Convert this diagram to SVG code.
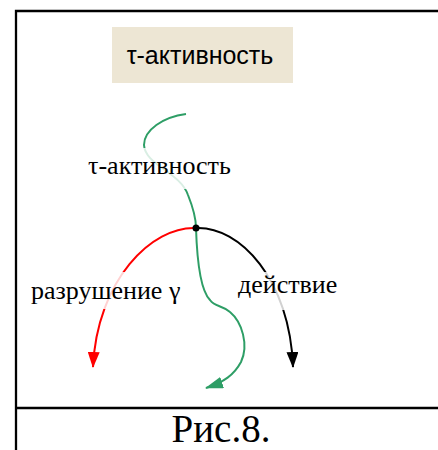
<svg xmlns="http://www.w3.org/2000/svg" width="438" height="450" viewBox="0 0 438 450">
  <style>
    .frame { stroke: #000; stroke-width: 2.3; fill: none; }
    .curve { fill: none; stroke-width: 2; }
    .serif { font-family: "Liberation Serif", "Times New Roman", serif; fill: #000; }
    .sans { font-family: "Liberation Sans", Arial, sans-serif; fill: #000; }
    .halo { fill: #fff; opacity: 0.82; }
  </style>
  <defs>
    <marker id="arrowRed" viewBox="0 0 16 12" refX="15" refY="6" markerWidth="16" markerHeight="12" markerUnits="userSpaceOnUse" orient="auto">
      <path d="M0,0 L16,6 L0,12 z" fill="#ff0000"/>
    </marker>
    <marker id="arrowBlack" viewBox="0 0 16 12" refX="15" refY="6" markerWidth="16" markerHeight="12" markerUnits="userSpaceOnUse" orient="auto">
      <path d="M0,0 L16,6 L0,12 z" fill="#000"/>
    </marker>
    <marker id="arrowGreen" viewBox="0 0 18 12" refX="17" refY="6" markerWidth="18" markerHeight="12" markerUnits="userSpaceOnUse" orient="auto">
      <path d="M0,0 L18,6 L0,12 z" fill="#2e9e66"/>
    </marker>
  </defs>

  <!-- frame -->
  <g id="frame">
    <path class="frame" d="M16,450 L16,11 L438,11"/>
    <path class="frame" d="M16,408 L438,408"/>
  </g>

  <!-- title box -->
  <g id="title">
    <rect x="112" y="27" width="181" height="56" fill="#ede6d4"/>
    <text class="sans" x="200" y="64" font-size="25" text-anchor="middle">τ-активность</text>
  </g>

  <!-- connectors -->
  <g id="connectors">
    <path class="curve" stroke="#2e9e66" marker-end="url(#arrowGreen)"
          d="M186,114 C163,117 144,130 144,145 C145,165 180,172 188,195 C194,210 196,220 196,228 C197,260 200,290 210,300 C215,307 222,305 230,312 C242,322 249,345 241,362 C234,375 224,382 206,388"/>
    <path class="curve" stroke="#ff0000" marker-end="url(#arrowRed)"
          d="M196,228 C152,226 97,280 93,367"/>
    <path class="curve" stroke="#000" marker-end="url(#arrowBlack)"
          d="M196,228 C240,226 290,280 293,367"/>
  </g>

  <!-- label backings soften the curves passing under the labels -->
  <g id="label-tau">
    <rect class="halo" x="86" y="148" width="152" height="41"/>
    <text class="serif" x="88" y="174" font-size="26">τ-активность</text>
  </g>
  <g id="label-destruction">
    <rect class="halo" x="28" y="272" width="158" height="37"/>
    <text class="serif" x="31" y="299" font-size="26">разрушение γ</text>
  </g>
  <g id="label-action">
    <rect class="halo" x="236" y="272" width="105" height="38"/>
    <text class="serif" x="238" y="293" font-size="26">действие</text>
  </g>

  <g id="junction">
    <circle cx="196" cy="228" r="3.5" fill="#000"/>
  </g>

  <g id="caption">
    <text class="serif" x="221" y="442" font-size="39" text-anchor="middle">Рис.8.</text>
  </g>
</svg>
